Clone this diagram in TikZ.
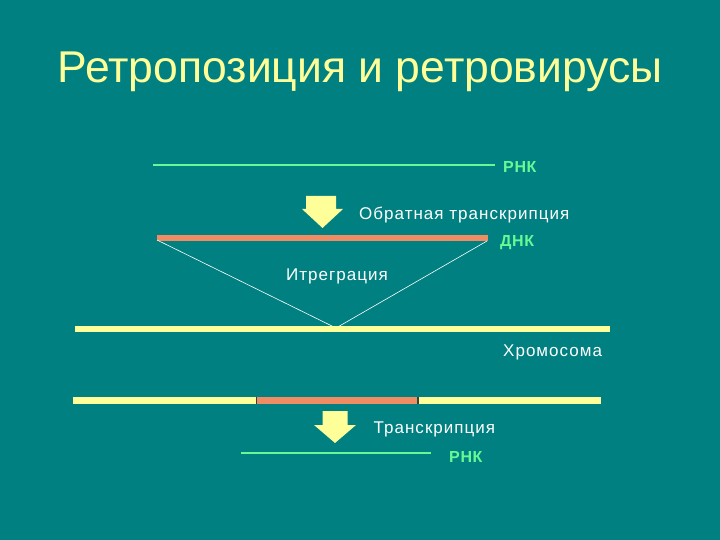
\documentclass[tikz,border=0pt]{standalone}
\usepackage{fontspec}
\setmainfont{Liberation Sans}
\usepackage{tikz}
\usetikzlibrary{positioning}
\definecolor{slidebg}{RGB}{0,128,128}
\definecolor{paleyellow}{RGB}{255,255,153}
\definecolor{rnagreen}{RGB}{102,250,150}
\definecolor{dnasalmon}{RGB}{240,140,100}
\definecolor{joint}{RGB}{40,70,70}

\begin{document}
\begin{tikzpicture}
     [x=1pt,y=-1pt,line cap=butt,
     %styles for strands and labels
     rnaline/.style={rnagreen,line width=1.5pt},
     dnabar/.style={dnasalmon,line width=6.5pt},
     chrombar/.style={paleyellow,line width=6.5pt},
     lbl/.style={white,inner sep=0pt,anchor=base west,
       font=\fontsize{17}{20}\selectfont\addfontfeature{LetterSpace=6}},
     rnalbl/.style={rnagreen,inner sep=0pt,anchor=base west,
       font=\fontsize{16}{19}\selectfont\bfseries\addfontfeature{LetterSpace=4}},
     blockarrow/.style={fill=paleyellow,draw=none}]

%background and title
  \fill[slidebg] (0,0) rectangle (720,540);
  \useasboundingbox (0,0) rectangle (720,540);
  \node (title) [paleyellow,anchor=base,inner sep=0pt,font=\fontsize{44.5}{50}\selectfont]
        at (360,83) {Ретропозиция и ретровирусы};

%RNA of the virus
  \coordinate (rnaA) at (153,165);
  \coordinate (rnaB) at (495,165);
  \draw[rnaline] (rnaA) -- (rnaB);
  \node (rnalabel) [rnalbl] at (503,173) {РНК};

%reverse transcription
  \fill[blockarrow] (306,196) -- (336,196) -- (336,209) -- (343,209) -- (322.5,228)
                    -- (302,209) -- (306,209) -- cycle;
  \node (revtr) [lbl] at (359,220) {Обратная транскрипция};

%DNA copy
  \coordinate (dnaA) at (157,238);
  \coordinate (dnaB) at (488,238);
  \draw[dnabar] (dnaA) -- (dnaB);
  \node (dnalabel) [rnalbl] at (500,246) {ДНК};

%integration into the chromosome
  \coordinate (insert) at (336,328);
  \draw[white,line width=0.6pt] (dnaA) ++(0,2) -- (insert);
  \draw[white,line width=0.6pt] (dnaB) ++(-1,3) -- (insert);
  \node (integr) [lbl] at (286,280) {Итреграция};

  \coordinate (chrA) at (75,329);
  \coordinate (chrB) at (610,329);
  \draw[chrombar] (chrA) -- (chrB);
  \node (chrlabel) [lbl] at (503,356) {Хромосома};

%chromosome with the insert
  \coordinate (segA) at (72.5,400.5);
  \coordinate (segB) at (256.5,400.5);
  \coordinate (segC) at (418,400.5);
  \coordinate (segD) at (601,400.5);
  \draw[chrombar,line width=7pt] (segA) -- (segB);
  \draw[dnabar,line width=7pt] (segB) -- (segC);
  \draw[chrombar,line width=7pt] (segC) -- (segD);
  \draw[joint,line width=1.5pt] (segB) ++(0,-3.5) -- ++(0,7);
  \draw[joint,line width=1.5pt] (segC) ++(0,-3.5) -- ++(0,7);

%transcription
  \fill[blockarrow] (322.5,411) -- (347.5,411) -- (347.5,425) -- (356,425) -- (335,443)
                    -- (314,425) -- (322.5,425) -- cycle;
  \node (transcr) [lbl] at (373.5,433) {Транскрипция};

  \coordinate (rnaC) at (241,453);
  \coordinate (rnaD) at (431,453);
  \draw[rnaline] (rnaC) -- (rnaD);
  \node (rnalabel2) [rnalbl] at (449,462) {РНК};
\end{tikzpicture}
\end{document}
